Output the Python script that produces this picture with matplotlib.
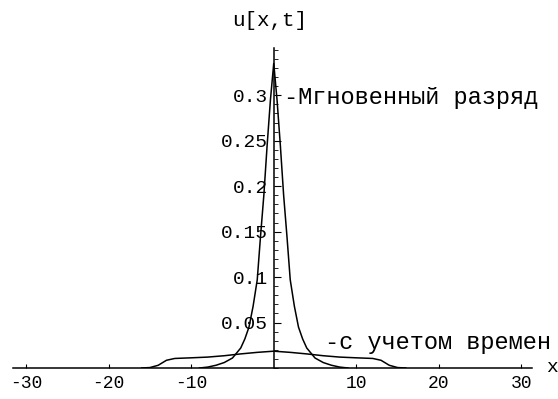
import matplotlib.pyplot as plt
from matplotlib.ticker import MultipleLocator

# instantaneous discharge (narrow peak)
X_INSTANT = [-9, -8, -7, -6, -5, -4, -3.5, -3, -2.5, -2, -1.6, -1.2, -0.8, -0.4, 0,
             0.4, 0.8, 1.2, 1.6, 2, 2.5, 3, 3.5, 4, 5, 6, 7, 8, 9]
U_INSTANT = [0, 0.001, 0.003, 0.006, 0.011, 0.022, 0.032, 0.045, 0.068, 0.097, 0.145, 0.19, 0.245, 0.295, 0.335,
             0.295, 0.245, 0.19, 0.145, 0.097, 0.068, 0.045, 0.032, 0.022, 0.011, 0.006, 0.003, 0.001, 0]

# with time taken into account (wide flat curve)
X_TIME = [-16, -15, -14, -13, -12, -10, -8, -6, -4, -2, 0, 2, 4, 6, 8, 10, 12, 13, 14, 15, 16]
U_TIME = [0, 0.0005, 0.003, 0.0085, 0.0105, 0.0112, 0.012, 0.0135, 0.0155, 0.0172, 0.0185,
          0.0172, 0.0155, 0.0135, 0.012, 0.0112, 0.0105, 0.0085, 0.003, 0.0005, 0]

X_TICKS = [-30, -20, -10, 10, 20, 30]
Y_TICKS = [0.05, 0.1, 0.15, 0.2, 0.25, 0.3]
Y_TICK_LABELS = ["0.05", "0.1", "0.15", "0.2", "0.25", "0.3"]

FONT = "Liberation Mono"

fig = plt.figure(figsize=(5.58, 3.99), dpi=100)
ax = fig.add_axes([13 / 558, 31 / 399, 519 / 558, 320 / 399])

ax.plot(X_INSTANT, U_INSTANT, color="black", linewidth=1.1)
ax.plot(X_TIME, U_TIME, color="black", linewidth=1.1)

ax.set_xlim(-31.6, 31.3)
ax.set_ylim(0, 0.352)

ax.spines["left"].set_position(("data", 0))
ax.spines["bottom"].set_position(("data", 0))
ax.spines["right"].set_visible(False)
ax.spines["top"].set_visible(False)
for s in ("left", "bottom"):
    ax.spines[s].set_linewidth(1.1)

ax.set_xticks(X_TICKS)
ax.set_xticklabels([str(v) for v in X_TICKS], fontfamily=FONT, fontsize=13)
ax.set_yticks(Y_TICKS)
ax.set_yticklabels(Y_TICK_LABELS, fontfamily=FONT, fontsize=14)
ax.yaxis.set_minor_locator(MultipleLocator(0.01))
ax.tick_params(axis="x", direction="in", length=3, width=0.8, pad=5)
ax.tick_params(axis="y", which="major", direction="in", length=5, width=0.8, pad=4)
ax.tick_params(axis="y", which="minor", direction="in", length=3, width=0.6)

ax.text(1.2, 0.297, "-Мгновенный разряд", fontfamily=FONT, fontsize=17,
        va="center", ha="left")
ax.text(6.2, 0.0275, "-с учетом времен", fontfamily=FONT, fontsize=17,
        va="center", ha="left")

fig.text(270 / 558, 1 - 20 / 399, "u[x,t]", fontfamily=FONT, fontsize=15,
         ha="center", va="center")
fig.text(546 / 558, 1 - 368 / 399, "x", fontfamily=FONT, fontsize=14,
         ha="left", va="center")

fig.savefig("out.png", dpi=100)
